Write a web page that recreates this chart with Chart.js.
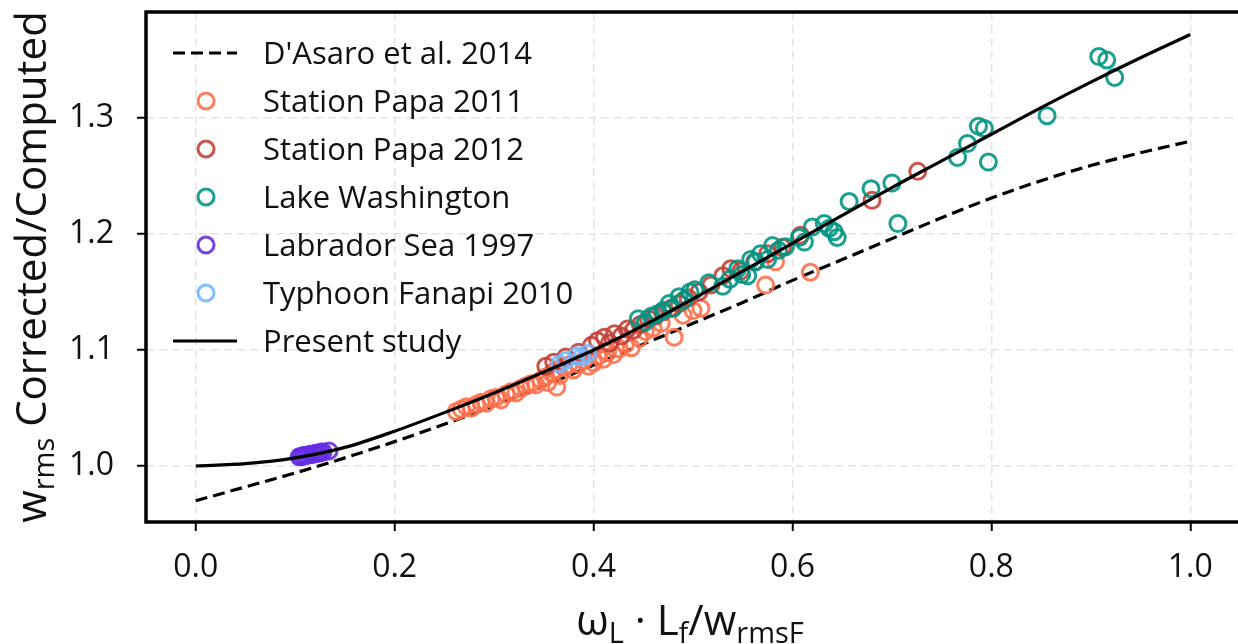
<!DOCTYPE html>
<html>
<head>
<meta charset="utf-8">
<script src="https://cdn.jsdelivr.net/npm/chart.js@4.4.1/dist/chart.umd.min.js"></script>
<style>
  html, body { margin: 0; padding: 0; background: #fff; overflow: hidden; }
  #wrap { width: 1238px; height: 644px; overflow: hidden; }
</style>
</head>
<body>
<div id="wrap"><canvas id="chart" width="1251" height="644"></canvas></div>
<script>
// ===== Data =====
const curveX = [0, 0.05, 0.1, 0.15, 0.2, 0.25, 0.3, 0.35, 0.4, 0.45, 0.5,
  0.55, 0.6, 0.65, 0.7, 0.75, 0.8, 0.85, 0.9, 0.95, 1.0];
const presentY = [1.000, 1.002, 1.007, 1.016, 1.030, 1.046, 1.063, 1.081, 1.100, 1.121, 1.144,
  1.168, 1.192, 1.216, 1.240, 1.263, 1.286, 1.309, 1.331, 1.352, 1.372];
const dasaroY = [0.970, 0.982, 0.994, 1.007, 1.021, 1.036, 1.052, 1.069, 1.087, 1.105, 1.123,
  1.141, 1.160, 1.178, 1.196, 1.214, 1.231, 1.246, 1.259, 1.270, 1.280];

const papa2011X = [0.262, 0.267, 0.272, 0.277, 0.282, 0.287, 0.292, 0.297, 0.302, 0.307, 0.312,
  0.317, 0.322, 0.327, 0.332, 0.337, 0.342, 0.347, 0.352, 0.354, 0.358, 0.362, 0.363, 0.366,
  0.370, 0.375, 0.380, 0.385, 0.390, 0.395, 0.400, 0.405, 0.410, 0.414, 0.420, 0.426, 0.432,
  0.438, 0.446, 0.452, 0.460, 0.468, 0.481, 0.490, 0.500, 0.508, 0.573, 0.583, 0.618];
const papa2011Y = [1.047, 1.049, 1.051, 1.050, 1.053, 1.055, 1.054, 1.058, 1.059, 1.057, 1.062,
  1.064, 1.063, 1.067, 1.069, 1.071, 1.070, 1.074, 1.077, 1.072, 1.080, 1.083, 1.068, 1.078,
  1.085, 1.087, 1.083, 1.088, 1.091, 1.086, 1.089, 1.095, 1.092, 1.098, 1.096, 1.101, 1.105,
  1.102, 1.110, 1.116, 1.119, 1.123, 1.111, 1.130, 1.134, 1.136, 1.156, 1.176, 1.167];

const papa2012X = [0.352, 0.360, 0.372, 0.385, 0.398, 0.404, 0.411, 0.416, 0.421, 0.428, 0.434,
  0.440, 0.447, 0.455, 0.462, 0.470, 0.478, 0.486, 0.495, 0.506, 0.518, 0.530, 0.538, 0.548,
  0.562, 0.575, 0.590, 0.608, 0.680, 0.726];
const papa2012Y = [1.086, 1.0895, 1.094, 1.098, 1.104, 1.108, 1.111, 1.106, 1.114, 1.112, 1.118,
  1.117, 1.122, 1.127, 1.129, 1.133, 1.136, 1.140, 1.145, 1.150, 1.156, 1.164, 1.170, 1.168,
  1.176, 1.183, 1.1885, 1.199, 1.229, 1.254];

const lakeX = [0.445, 0.452, 0.458, 0.464, 0.470, 0.476, 0.480, 0.486, 0.491, 0.497, 0.502,
  0.516, 0.530, 0.537, 0.545, 0.549, 0.555, 0.558, 0.563, 0.568, 0.575, 0.580, 0.586, 0.593,
  0.607, 0.612, 0.620, 0.632, 0.637, 0.642, 0.645, 0.657, 0.679, 0.700, 0.706, 0.766, 0.776,
  0.787, 0.793, 0.797, 0.856, 0.908, 0.916, 0.924];
const lakeY = [1.127, 1.124, 1.129, 1.131, 1.134, 1.140, 1.136, 1.146, 1.143, 1.150, 1.152,
  1.158, 1.155, 1.161, 1.170, 1.165, 1.164, 1.178, 1.176, 1.183, 1.178, 1.190, 1.186, 1.189,
  1.197, 1.193, 1.206, 1.209, 1.205, 1.202, 1.197, 1.228, 1.239, 1.244, 1.209, 1.266, 1.278,
  1.293, 1.291, 1.262, 1.302, 1.353, 1.350, 1.335];

const labradorX = [0.104, 0.106, 0.108, 0.110, 0.112, 0.114, 0.116, 0.118, 0.120, 0.122,
  0.124, 0.126, 0.128, 0.134];
const labradorY = [1.008, 1.008, 1.009, 1.009, 1.009, 1.010, 1.010, 1.010, 1.011, 1.011,
  1.011, 1.012, 1.012, 1.013];

const typhoonX = [0.366, 0.372, 0.383, 0.388, 0.394];
const typhoonY = [1.088, 1.091, 1.095, 1.094, 1.097];

const xTicks = [0, 0.2, 0.4, 0.6, 0.8, 1.0];
const yTicks = [1.0, 1.1, 1.2, 1.3];

// ===== Helpers =====
const FONT = "'Open Sans', 'Noto Sans', sans-serif";
const TEXT = "#111";

function pts(xs, ys) {
  return xs.map((x, i) => ({ x: x, y: ys[i] }));
}

function scatterSet(label, xs, ys, color, order) {
  return {
    label: label,
    data: pts(xs, ys),
    showLine: false,
    pointStyle: "circle",
    pointRadius: 8,
    pointHoverRadius: 8,
    borderWidth: 3,
    borderColor: color,
    backgroundColor: "rgba(0,0,0,0)",
    order: order,
  };
}

// text with subscripts, centred on x
function drawRich(ctx, parts, x, y, mainSize, subSize, drop) {
  let total = 0;
  parts.forEach((p) => {
    ctx.font = (p.sub ? subSize : mainSize) + "px " + FONT;
    p.w = ctx.measureText(p.t).width;
    total += p.w;
  });
  let cx = x - total / 2;
  parts.forEach((p) => {
    ctx.font = (p.sub ? subSize : mainSize) + "px " + FONT;
    ctx.fillText(p.t, cx, y + (p.sub ? drop : 0));
    cx += p.w;
  });
}

// no extra room for the end labels, keep the plot box where it is
function noPad(s) {
  s.paddingTop = 0;
  s.paddingBottom = 0;
  s.paddingLeft = 0;
  s.paddingRight = 0;
}

// ===== Plugins =====
const framePlugin = {
  id: "frame",
  afterDatasetsDraw(chart) {
    const { ctx, chartArea: a } = chart;
    ctx.save();
    ctx.strokeStyle = "#000";
    ctx.lineWidth = 3.5;
    ctx.strokeRect(a.left, a.top, a.right - a.left, a.bottom - a.top);
    ctx.restore();
  },
};

const legendPlugin = {
  id: "insideLegend",
  afterDatasetsDraw(chart) {
    const ctx = chart.ctx;
    ctx.save();
    chart.data.datasets.forEach((ds, i) => {
      const y = 53 + i * 48;
      ctx.strokeStyle = ds.borderColor;
      ctx.lineWidth = ds.borderWidth;
      if (ds.showLine) {
        ctx.setLineDash(ds.borderDash || []);
        ctx.beginPath();
        ctx.moveTo(173, y);
        ctx.lineTo(237, y);
        ctx.stroke();
        ctx.setLineDash([]);
      } else {
        ctx.beginPath();
        ctx.arc(206, y, ds.pointRadius, 0, Math.PI * 2);
        ctx.stroke();
      }
      ctx.fillStyle = TEXT;
      ctx.font = "31px " + FONT;
      ctx.textBaseline = "alphabetic";
      ctx.fillText(ds.label, 263, y + 11);
    });
    ctx.restore();
  },
};

const titlePlugin = {
  id: "axisTitles",
  afterDraw(chart) {
    const { ctx, chartArea: a } = chart;
    ctx.save();
    ctx.fillStyle = TEXT;
    ctx.textBaseline = "alphabetic";
    drawRich(ctx, [
      { t: "ω" }, { t: "L", sub: true }, { t: " · L" }, { t: "f", sub: true },
      { t: "/w" }, { t: "rmsF", sub: true },
    ], 690, 635, 42, 29, 8);

    ctx.translate(46, (a.top + a.bottom) / 2);
    ctx.rotate(-Math.PI / 2);
    drawRich(ctx, [
      { t: "w" }, { t: "rms", sub: true }, { t: " Corrected/Computed" },
    ], 0, 0, 42, 29, 8);
    ctx.restore();
  },
};

// ===== Chart =====
const gridOpts = {
  color: "#e3e3e3",
  lineWidth: 1.5,
  tickColor: "#000",
  tickLength: 9,
  tickWidth: 2,
};

new Chart(document.getElementById("chart"), {
  type: "scatter",
  data: {
    datasets: [
      {
        label: "D'Asaro et al. 2014",
        data: pts(curveX, dasaroY),
        showLine: true,
        borderColor: "#000",
        borderWidth: 3.2,
        borderDash: [12, 6],
        pointRadius: 0,
        cubicInterpolationMode: "monotone",
        order: 6,
      },
      scatterSet("Station Papa 2011", papa2011X, papa2011Y, "rgba(255,112,76,0.9)", 5),
      scatterSet("Station Papa 2012", papa2012X, papa2012Y, "rgba(196,64,54,0.9)", 4),
      scatterSet("Lake Washington", lakeX, lakeY, "rgba(0,150,132,0.9)", 3),
      scatterSet("Labrador Sea 1997", labradorX, labradorY, "rgba(102,46,226,0.9)", 2),
      scatterSet("Typhoon Fanapi 2010", typhoonX, typhoonY, "rgba(116,182,255,0.9)", 1),
      {
        label: "Present study",
        data: pts(curveX, presentY),
        showLine: true,
        borderColor: "#000",
        borderWidth: 3.2,
        pointRadius: 0,
        cubicInterpolationMode: "monotone",
        order: 0,
      },
    ],
  },
  options: {
    responsive: false,
    animation: false,
    layout: { padding: { top: 12, right: 0, left: 0, bottom: 0 } },
    plugins: { legend: { display: false }, tooltip: { enabled: false } },
    scales: {
      x: {
        type: "linear",
        min: -0.05,
        max: 1.05,
        afterFit: (s) => { s.height = 122; noPad(s); },
        afterBuildTicks: (s) => { s.ticks = xTicks.map((v) => ({ value: v })); },
        grid: gridOpts,
        border: { display: false, dash: [8, 5] },
        ticks: {
          padding: 18,
          color: TEXT,
          maxRotation: 0,
          autoSkip: false,
          font: { family: FONT, size: 32 },
          callback: (v) => Number(v).toFixed(1),
        },
      },
      y: {
        type: "linear",
        min: 0.9517,
        max: 1.3914,
        afterFit: (s) => { s.width = 146; noPad(s); },
        afterBuildTicks: (s) => { s.ticks = yTicks.map((v) => ({ value: v })); },
        grid: gridOpts,
        border: { display: false, dash: [8, 5] },
        ticks: {
          padding: 23,
          color: TEXT,
          autoSkip: false,
          font: { family: FONT, size: 32 },
          callback: (v) => Number(v).toFixed(1),
        },
      },
    },
  },
  plugins: [framePlugin, legendPlugin, titlePlugin],
});
</script>
</body>
</html>
